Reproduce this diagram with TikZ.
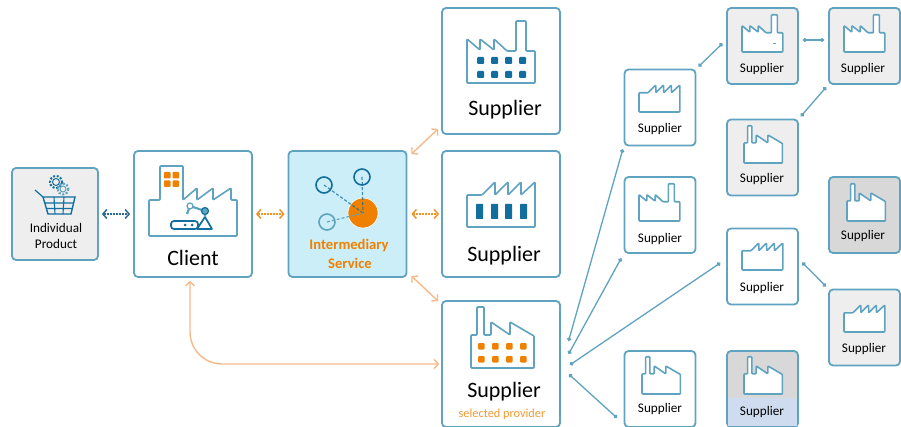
\documentclass[tikz,border=0pt]{standalone}
\usepackage{fontspec}
\setmainfont{Carlito}
\usetikzlibrary{arrows.meta}
\definecolor{boxline}{HTML}{5FA3C0}
\definecolor{deepteal}{HTML}{126E9E}
\definecolor{servicefill}{HTML}{CBEEF8}
\definecolor{lightbox}{HTML}{EEEEEE}
\definecolor{darkbox}{HTML}{D8D8D8}
\definecolor{blueband}{HTML}{CFDCEF}
\definecolor{strongorange}{HTML}{F08000}
\definecolor{paleorange}{HTML}{F7B98A}
\definecolor{navylink}{HTML}{2F6A94}
\tikzset{
  box/.style={draw=boxline,line width=1.8pt,rounded corners=4pt,inner sep=0pt,fill=white},
  bigbox/.style={box,minimum width=118pt,minimum height=126pt},
  smallbox/.style={box,minimum width=71pt,minimum height=76pt},
  icon/.style={draw=boxline,fill=white,line width=1.6pt,rounded corners=0.8pt,line join=round},
  bigtxt/.style={font=\fontsize{22}{24}\selectfont,inner sep=0pt},
  smalltxt/.style={font=\fontsize{13.2}{16}\selectfont,inner sep=0pt,align=center},
  dotlink/.style={draw=boxline,line width=1.3pt,{Circle[length=4pt,width=4pt]}-{Circle[length=4pt,width=4pt]}},
  twoway/.style={line width=1.5pt,dash pattern=on 2pt off 1pt,{Straight Barb[length=4pt,width=9pt]}-{Straight Barb[length=4pt,width=9pt]}},
  paleway/.style={draw=paleorange,line width=1.4pt,{Straight Barb[length=4pt,width=9pt]}-{Straight Barb[length=4pt,width=9pt]}},
  spoke/.style={draw=deepteal,line width=1.2pt,densely dashed,opacity=0.75},
  ringnode/.style={circle,draw=deepteal,line width=1.6pt,minimum size=16pt,inner sep=0pt}
}
% chimney on the right
\newcommand{\FACTA}[3]{\draw[icon,shift={(#1,#2)},scale=#3] (0,-44) -- (13,-33) -- (13,-44) -- (27,-33) -- (27,-44) -- (40,-32) -- (49,-32) -- (49,-62) -- (59,-62) -- (59,-32) -- (68,-32) -- (68,0) -- (0,0) -- cycle;}
% no chimney
\newcommand{\FACTB}[3]{\draw[icon,shift={(#1,#2)},scale=#3] (0,-32) -- (15,-32) -- (28,-45) -- (28,-32) -- (41,-45) -- (41,-32) -- (54,-45) -- (54,-32) -- (68,-45) -- (68,0) -- (0,0) -- cycle;}
% chimney on the left
\newcommand{\FACTC}[3]{\draw[icon,shift={(#1,#2)},scale=#3] (0,-33) -- (6,-33) -- (6,-61) -- (13,-61) -- (13,-33) -- (20,-33) -- (20,-46) -- (39,-33) -- (39,-46) -- (63,-32) -- (63,0) -- (0,0) -- cycle;}
\newcommand{\GEAR}[4]{\draw[#4,line width=2pt,dash pattern=on 2pt off 1.6pt] (#1,#2) circle (#3);
  \draw[#4,line width=1pt] (#1,#2) circle (#3-2.5);}
\begin{document}
\begin{tikzpicture}[x=1pt,y=-1pt]
   \useasboundingbox (0,0) rectangle (901,427);
   \node (product) at (55,214) [box,fill=lightbox,minimum width=86pt,minimum height=92pt] {};
   \node (client) at (193,214) [bigbox] {};
   \node (service) at (347.5,214) [bigbox,fill=servicefill] {};
   \node (sup1) at (501,71) [bigbox] {};
   \node (sup2) at (501,214) [bigbox] {};
   \node (sup3) at (501,364) [bigbox] {};
   \node (sup4) at (660,107.5) [smallbox] {};
   \node (sup5) at (762.5,46) [smallbox,fill=lightbox] {};
   \node (sup6) at (864.5,46) [smallbox,fill=lightbox] {};
   \node (sup7) at (762.5,157.5) [smallbox,fill=lightbox] {};
   \node (sup8) at (660,215) [smallbox] {};
   \node (sup9) at (762.5,266.5) [smallbox] {};
   \node (sup10) at (864.5,215) [smallbox,fill=darkbox] {};
   \node (sup11) at (864.5,327.5) [smallbox,fill=lightbox] {};
   \node (sup12) at (660,389) [smallbox] {};
   \node (sup13) at (762.5,389) [smallbox,fill=darkbox] {};
   \fill[blueband] (728,398) rectangle (797,426);
   % factories
   \FACTA{467}{83}{1}
   \FACTB{467}{227}{1}
   \FACTC{471}{368}{1}
   \FACTA{742}{52}{0.6}
   \FACTA{844}{52}{0.6}
   \FACTB{639}{112}{0.6}
   \FACTC{744}{163}{0.61}
   \FACTA{639}{221}{0.6}
   \FACTB{742}{270}{0.6}
   \FACTC{847}{221}{0.61}
   \FACTB{844}{332}{0.6}
   \FACTC{642}{394}{0.61}
   \FACTC{744}{394}{0.61}
   \fill[boxline] (773,43.5) rectangle (776,44.5);
   \fill[deepteal,rounded corners=1pt] (477,57) rectangle ++(7,7) (491,57) rectangle ++(7,7) (505,57) rectangle ++(7,7) (519,57) rectangle ++(7,7)
     (477,71) rectangle ++(7,7) (491,71) rectangle ++(7,7) (505,71) rectangle ++(7,7) (519,71) rectangle ++(7,7);
   \fill[deepteal,rounded corners=0.5pt] (476,204) rectangle ++(7,15) (491,204) rectangle ++(7,15) (505,204) rectangle ++(7,15) (520,204) rectangle ++(7,15);
   \fill[strongorange,rounded corners=1pt] (478,343) rectangle ++(6.5,6.5) (492,343) rectangle ++(6.5,6.5) (506,343) rectangle ++(6.5,6.5) (520,343) rectangle ++(6.5,6.5)
     (478,356) rectangle ++(6.5,6.5) (492,356) rectangle ++(6.5,6.5) (506,356) rectangle ++(6.5,6.5) (520,356) rectangle ++(6.5,6.5);
   % client factory
   \draw[icon] (149,200) -- (160,200) -- (160,166) -- (183,166) -- (183,200) -- (197,188) -- (197,200) -- (213,188) -- (213,200) -- (231,188) -- (231,200) -- (237,200) -- (237,236) -- (149,236) -- cycle;
   \fill[strongorange,rounded corners=0.8pt] (164,172) rectangle ++(6.5,6.5) (172.5,172) rectangle ++(6.5,6.5) (164,180.5) rectangle ++(6.5,6.5) (172.5,180.5) rectangle ++(6.5,6.5);
   \draw[deepteal,line width=1.7pt,rounded corners=3pt] (171,221) rectangle (198,229);
   \fill[deepteal] (185,225) circle (1.5) (192,225) circle (1.5);
   \draw[deepteal,line width=1.7pt,line join=round] (197,229) -- (205,217) -- (212,229) -- cycle;
   \draw[boxline,line width=2.2pt] (187,214) -- (190,206) -- (205,211) -- (205,217);
   \draw[boxline,line width=1.2pt,fill=white] (190,206) circle (3);
   \draw[deepteal,line width=1.2pt,fill=boxline] (205,211) circle (3.5);
   % basket
   \GEAR{56}{182}{6}{deepteal}
   \GEAR{63}{189}{5.5}{boxline}
   \draw[deepteal,line width=1.2pt] (35,190) -- (43,197);
   \draw[deepteal,line width=1.4pt] (43,197) -- (75,197) -- (71,214) -- (48,214) -- cycle;
   \draw[deepteal,line width=1.1pt] (44.5,203) -- (73.5,203) (46,208.5) -- (72.5,208.5) (54,197) -- (55,214) (64,197) -- (63,214);
   % service graphic
   \node (hub) at (363,213) [circle,fill=strongorange,draw=white,line width=0.6pt,minimum size=30pt,inner sep=0pt] {};
   \node (ring1) at (362,177) [ringnode] {};
   \node (ring2) at (324,185) [ringnode] {};
   \node (ring3) at (327,222) [ringnode,draw=boxline] {};
   \draw[spoke] (ring1.center) -- (hub.center);
   \draw[spoke] (ring2.center) -- (hub.center);
   \draw[spoke,draw=boxline,opacity=1] (ring3.center) -- (hub.center);
   % labels
   \node (productA) at (56,228) [smalltxt] {Individual};
   \node (productB) at (56,244) [smalltxt] {Product};
   \node (clientT) at (193,258) [bigtxt] {Client};
   \node (serviceA) at (349,246) [font=\fontsize{14.6}{16}\selectfont\bfseries,text=strongorange,inner sep=0pt] {Intermediary};
   \node (serviceB) at (350,263) [font=\fontsize{14.6}{16}\selectfont\bfseries,text=strongorange,inner sep=0pt] {Service};
   \node (sup1T) at (505,110) [bigtxt] {Supplier};
   \node (sup2T) at (504,256) [bigtxt] {Supplier};
   \node (sup3T) at (504,392) [bigtxt] {Supplier};
   \node (sup3S) at (502,414) [font=\fontsize{12.3}{14}\selectfont,text=strongorange!80!white,inner sep=0pt] {selected provider};
   \node (sup4T) at (660,129) [smalltxt] {Supplier};
   \node (sup5T) at (762,69) [smalltxt] {Supplier};
   \node (sup6T) at (863,69) [smalltxt] {Supplier};
   \node (sup7T) at (762,179) [smalltxt] {Supplier};
   \node (sup8T) at (660,239) [smalltxt] {Supplier};
   \node (sup9T) at (762,288) [smalltxt] {Supplier};
   \node (sup10T) at (863,236) [smalltxt] {Supplier};
   \node (sup11T) at (864,349) [smalltxt] {Supplier};
   \node (sup12T) at (660,409) [smalltxt] {Supplier};
   \node (sup13T) at (762,412) [smalltxt] {Supplier};
   % connectors
   \draw[twoway,navylink] ([xshift=3pt]product.east) -- ([xshift=-3pt]client.west);
   \draw[twoway,strongorange!85!white] ([xshift=3pt]client.east) -- ([xshift=-3pt]service.west);
   \draw[twoway,strongorange!85!white] ([xshift=4pt]service.east) -- ([xshift=-2pt]sup2.west);
   \draw[paleway] ([xshift=4pt,yshift=-4pt]service.north east) -- ([xshift=-3pt,yshift=6pt]sup1.south west);
   \draw[paleway] ([xshift=4pt,yshift=2pt]service.south east) -- ([xshift=-3pt,yshift=-1pt]sup3.north west);
   \draw[paleway,rounded corners=32pt,shorten <=3pt,shorten >=2pt] ([xshift=-3pt]client.south) |- (sup3.west);
   \draw[dotlink,shorten <=28pt,shorten >=3pt] ([yshift=-4pt]sup3.east) -- (sup4.south west);
   \draw[dotlink,shorten <=16pt,shorten >=5pt] ([yshift=-4pt]sup3.east) -- (sup8.south west);
   \draw[dotlink,shorten <=11pt,shorten >=7pt] ([yshift=-7pt]sup3.east) -- ([yshift=7.5pt]sup9.west);
   \draw[dotlink,shorten <=11pt,shorten >=9pt] ([yshift=-3pt]sup3.east) -- ([yshift=4pt]sup12.south west);
   \draw[dotlink,shorten <=3pt,shorten >=5pt] (sup4.north east) -- ([yshift=6pt]sup5.west);
   \draw[dotlink,shorten <=4pt,shorten >=4pt] ([yshift=6pt]sup5.east) -- ([yshift=6pt]sup6.west);
   \draw[dotlink,shorten <=3pt,shorten >=3pt] (sup6.south west) -- (sup7.north east);
   \draw[dotlink,shorten <=5pt,shorten >=3pt] ([yshift=7.5pt]sup9.east) -- (sup11.north west);
\end{tikzpicture}
\end{document}
